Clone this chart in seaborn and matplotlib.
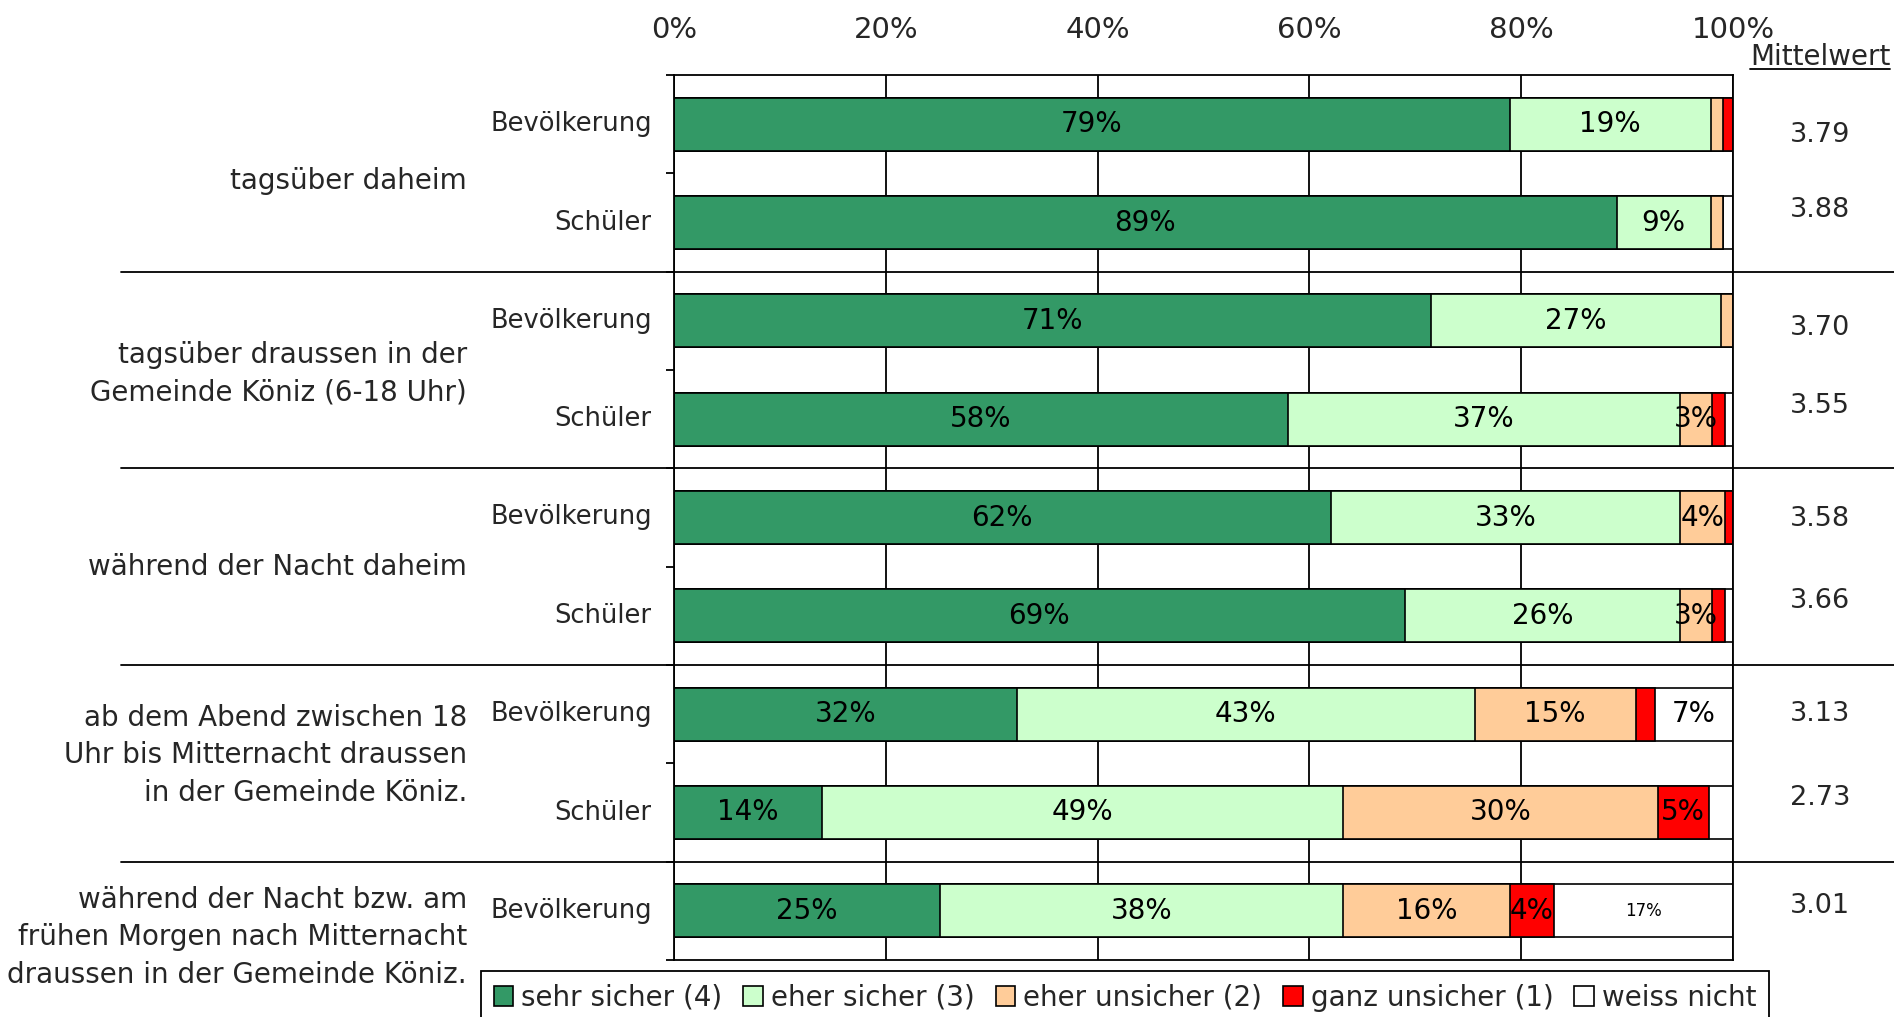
"""
Sicherheitsgefühl Köniz: Bevölkerung vs. Schüler, gestapelte Balken
"""
import pandas as pd
import seaborn as sns
import matplotlib.pyplot as plt
import matplotlib.transforms as mtrans
from matplotlib.patches import Patch
from matplotlib.ticker import FixedLocator

GROUPS = [
    "tagsüber daheim",
    "tagsüber draussen in der\nGemeinde Köniz (6-18 Uhr)",
    "während der Nacht daheim",
    "ab dem Abend zwischen 18\nUhr bis Mitternacht draussen\nin der Gemeinde Köniz.",
    "während der Nacht bzw. am\nfrühen Morgen nach Mitternacht\ndraussen in der Gemeinde Köniz.",
]
ROWS = ["Bevölkerung", "Schüler"] * 4 + ["Bevölkerung"]
CATEGORIES = ["sehr sicher (4)", "eher sicher (3)", "eher unsicher (2)",
              "ganz unsicher (1)", "weiss nicht"]
COLORS = ["#339966", "#CCFFCC", "#FFCC99", "#FF0000", "#FFFFFF"]

sehr_sicher = [78.9, 89.0, 71.45, 58.0, 62.0, 69.0, 32.4, 14.0, 25.1]
eher_sicher = [19.0, 8.9, 27.45, 37.0, 33.0, 26.0, 43.2, 49.2, 38.1]
eher_unsicher = [1.2, 1.2, 1.1, 3.0, 4.2, 3.0, 15.2, 29.7, 15.7]
ganz_unsicher = [0.9, 0.0, 0.0, 1.2, 0.8, 1.2, 1.8, 4.8, 4.2]
weiss_nicht = [0.0, 0.9, 0.0, 0.8, 0.0, 0.8, 7.4, 2.3, 16.9]
mittelwert = ["3.79", "3.88", "3.70", "3.55", "3.58", "3.66", "3.13", "2.73", "3.01"]

# layout only
GROUP_Y = [0.58, 2.54, 4.5, 6.42, 8.27]
MW_SHIFT = [0.11, -0.13, 0.07, -0.13, 0.02, -0.15, 0.0, -0.15, -0.05]
FS = 18.5
FS_BIG = 20

sns.set_style("white")
plt.rcParams['font.family'] = ['DejaVu Sans']

df = pd.DataFrame({
    CATEGORIES[0]: sehr_sicher,
    CATEGORIES[1]: eher_sicher,
    CATEGORIES[2]: eher_unsicher,
    CATEGORIES[3]: ganz_unsicher,
    CATEGORIES[4]: weiss_nicht,
})
df['row'] = [str(i) for i in range(len(df))]
cum = df[CATEGORIES].cumsum(axis=1)

fig = plt.figure(figsize=(18.94, 10.17), dpi=100)
ax = fig.add_axes([674 / 1894, 1 - 960 / 1017, (1733 - 674) / 1894, (960 - 75) / 1017])

# draw from the full stack down to the first segment so the edges show the splits
for cat, col in reversed(list(zip(CATEGORIES, COLORS))):
    sns.barplot(x=cum[cat], y=df['row'], orient='h', color=col, saturation=1,
                edgecolor='black', linewidth=1.2, width=0.54, errorbar=None, ax=ax)

ax.set_xlim(0, 100)
ax.set_ylim(8.5, -0.5)
ax.set_xlabel("")
ax.set_ylabel("")

ax.xaxis.tick_top()
ax.set_xticks(range(0, 101, 20))
ax.set_xticklabels([f"{v}%" for v in range(0, 101, 20)], fontsize=21)
ax.tick_params(axis='x', length=0, pad=22)
ax.grid(axis='x', color='black', linewidth=1.3)
ax.set_axisbelow(True)

ax.set_yticks([])
ax.yaxis.set_minor_locator(FixedLocator([i - 0.5 for i in range(10)]))
ax.tick_params(axis='y', which='minor', left=True, length=6, width=1.3,
               color='black', direction='out')
for sp in ax.spines.values():
    sp.set_color('black')
    sp.set_linewidth(1.3)

# segment labels
for i in range(len(df)):
    left = 0
    for j, cat in enumerate(CATEGORIES):
        v = df[cat].iloc[i]
        if v >= 2.5:
            size = 12 if (j == 4 and i == len(df) - 1) else 20
            ax.text(left + v / 2, i, f"{round(v)}%", ha='center', va='center',
                    fontsize=size, color='black')
        left += v

# row labels
for i, name in enumerate(ROWS):
    ax.annotate(name, xy=(0, i), xycoords=('axes fraction', 'data'),
                xytext=(-16, 0), textcoords='offset points',
                ha='right', va='center', fontsize=FS)

# group labels
for y, g in zip(GROUP_Y, GROUPS):
    ax.annotate(g, xy=(0, y), xycoords=('axes fraction', 'data'),
                xytext=(-149, 0), textcoords='offset points',
                ha='right', va='center', fontsize=FS_BIG, multialignment='right',
                linespacing=1.42)

# separators between groups
trans = mtrans.blended_transform_factory(fig.transFigure, ax.transData)
for y in [1.5, 3.5, 5.5, 7.5]:
    ax.plot([121 / 1894, 1.0], [y, y], color='black', linewidth=1.3,
            transform=trans, clip_on=False)

# Mittelwert column
for i, m in enumerate(mittelwert):
    ax.text(1820 / 1894, i + MW_SHIFT[i], m, transform=trans, ha='center',
            va='center', fontsize=19.5)
hdr = fig.text(1820 / 1894, 1 - 57 / 1017, "Mittelwert", ha='center', va='center',
               fontsize=FS_BIG)
fig.canvas.draw()
bb = hdr.get_window_extent().transformed(fig.transFigure.inverted())
fig.add_artist(plt.Line2D([bb.x0, bb.x1], [bb.y0 + 0.002, bb.y0 + 0.002],
                          color='black', linewidth=1.3, transform=fig.transFigure))

# legend
handles = [Patch(facecolor=c, edgecolor='black', linewidth=1.2) for c in COLORS]
leg = fig.legend(handles, CATEGORIES, loc='upper left',
                 bbox_to_anchor=(481 / 1894, 1 - 971 / 1017), ncol=5,
                 fontsize=FS_BIG, frameon=True, fancybox=False, framealpha=1,
                 edgecolor='black', handlelength=0.7, handleheight=0.7,
                 handletextpad=0.3, columnspacing=0.75, borderpad=0.45,
                 borderaxespad=0)
leg.get_frame().set_linewidth(1.3)

fig.savefig("out.png", dpi=100)
